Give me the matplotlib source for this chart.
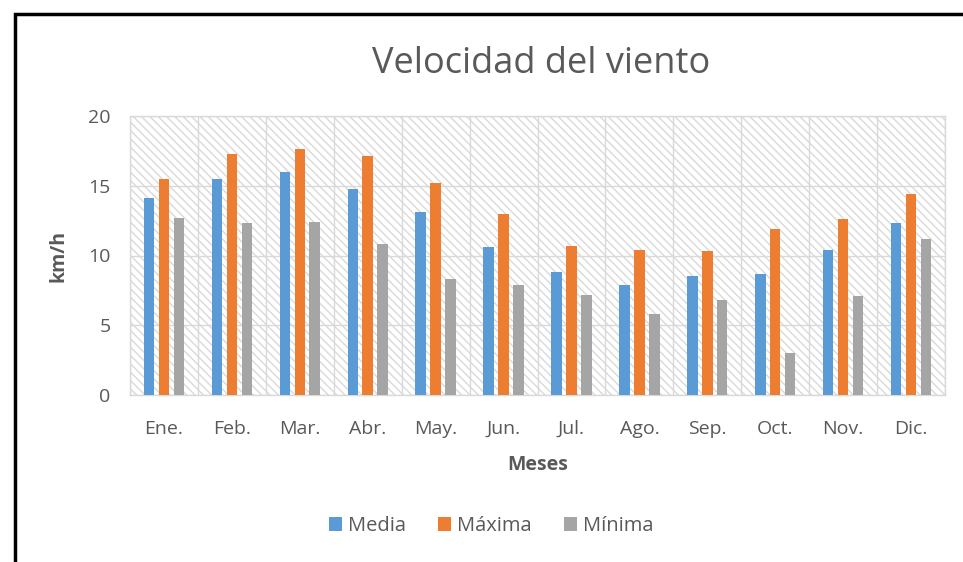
import matplotlib
matplotlib.use('Agg')
import matplotlib.pyplot as plt
import matplotlib.patches as patches
import numpy as np

meses = ['Ene.', 'Feb.', 'Mar.', 'Abr.', 'May.', 'Jun.', 'Jul.', 'Ago.', 'Sep.', 'Oct.', 'Nov.', 'Dic.']
media = [14.1, 15.5, 16.0, 14.8, 13.1, 10.6, 8.8, 7.9, 8.5, 8.7, 10.4, 12.3]
maxima = [15.5, 17.3, 17.6, 17.1, 15.2, 13.0, 10.7, 10.4, 10.3, 11.9, 12.6, 14.4]
minima = [12.7, 12.3, 12.4, 10.8, 8.3, 7.9, 7.2, 5.8, 6.8, 3.0, 7.1, 11.2]

plt.rcParams['font.family'] = ['Open Sans', 'DejaVu Sans']
plt.rcParams['hatch.linewidth'] = 1.0
plt.rcParams['hatch.color'] = '#d9d9d9'

txt = '#595959'
grid_c = '#d9d9d9'

fig = plt.figure(figsize=(9.63, 5.62), dpi=100)
ax = fig.add_axes([130/963, 1 - 395/562, 815/963, 279/562])

# black frame around the chart (runs off the right and bottom)
frame = patches.Rectangle((15/963, -0.05), 1.0, 1 - 14/562 + 0.05, transform=fig.transFigure,
                          fill=False, edgecolor='black', linewidth=2.5)
fig.patches.append(frame)

# hatched plot area
bg = patches.Rectangle((0, 0), 1, 1, transform=ax.transAxes, facecolor='white',
                       edgecolor=grid_c, hatch='\\\\\\\\', linewidth=0, zorder=0)
ax.add_patch(bg)

x = np.arange(len(meses))
w = 0.155
d = 0.22
ax.bar(x - d, media, w, color='#5b9bd5', label='Media', zorder=3)
ax.bar(x, maxima, w, color='#ed7d31', label='Máxima', zorder=3)
ax.bar(x + d, minima, w, color='#a5a5a5', label='Mínima', zorder=3)

ax.set_xlim(-0.5, len(meses) - 0.5)
ax.set_ylim(0, 20)
ax.set_yticks([0, 5, 10, 15, 20])
ax.set_xticks(x)
ax.set_xticklabels(meses)
ax.set_xticks(np.arange(len(meses) + 1) - 0.5, minor=True)
ax.tick_params(which='both', length=0, colors=txt, labelsize=14)
ax.tick_params(axis='x', pad=18)
ax.tick_params(axis='y', pad=14)
ax.grid(axis='y', which='major', color=grid_c, linewidth=1, zorder=1)
ax.grid(axis='x', which='minor', color=grid_c, linewidth=1, zorder=1)
ax.grid(axis='x', which='major', visible=False)
for s in ax.spines.values():
    s.set_color(grid_c)
    s.set_linewidth(1)

ax.set_xlabel('Meses', fontsize=14, fontweight='bold', color=txt, labelpad=12)
ax.set_ylabel('km/h', fontsize=14, fontweight='bold', color=txt, labelpad=14)
fig.text(541/963, 1 - 64/562, 'Velocidad del viento', ha='center', va='center',
         fontsize=26, color=txt)

fig.legend(loc='center', bbox_to_anchor=(0.51, 1 - 526/562), ncol=3, frameon=False,
           fontsize=14.5, handlelength=0.65, handleheight=0.65, handletextpad=0.3,
           columnspacing=1.6, labelcolor=txt)

fig.savefig('out.png', dpi=100)
